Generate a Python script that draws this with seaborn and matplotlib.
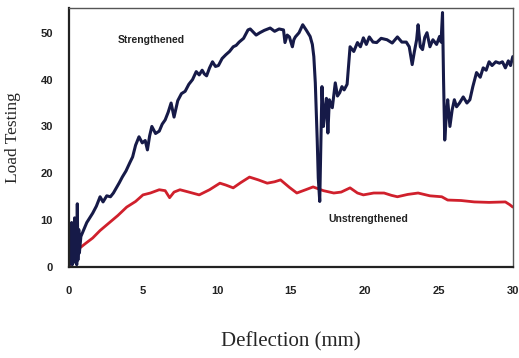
import matplotlib
matplotlib.use("Agg")
import matplotlib.pyplot as plt
import seaborn as sns
import pandas as pd

# values (deflection in mm, load)
strengthened_x = [0.0, 0.08, 0.12, 0.18, 0.22, 0.28, 0.32, 0.38, 0.42, 0.48, 0.52, 0.56, 0.6, 0.66,
                  0.7, 0.8, 1.0, 1.2, 1.4, 1.6, 1.85, 2.1, 2.3, 2.55, 2.8, 3.0, 3.2, 3.4, 3.6, 3.85,
                  4.1, 4.3, 4.5, 4.73, 4.95, 5.15, 5.3, 5.45, 5.6, 5.85, 6.1, 6.3, 6.5, 6.7, 6.9,
                  7.1, 7.35, 7.6, 7.85, 8.1, 8.35, 8.6, 8.8, 9.0, 9.15, 9.3, 9.5, 9.7, 9.9, 10.1,
                  10.35, 10.6, 10.85, 11.1, 11.3, 11.5, 11.8, 12.1, 12.25, 12.4, 12.65, 12.9, 13.2,
                  13.6, 13.9, 14.2, 14.5, 14.6, 14.75, 14.9, 15.0, 15.1, 15.2, 15.3, 15.55, 15.8,
                  16.05, 16.3, 16.45, 16.55, 16.65, 16.72, 16.78, 16.85, 16.95, 17.1, 17.2, 17.3,
                  17.4, 17.5, 17.6, 17.8, 18.0, 18.15, 18.3, 18.45, 18.6, 18.8, 19.0, 19.25, 19.5,
                  19.7, 19.9, 20.1, 20.3, 20.55, 20.8, 21.1, 21.5, 21.85, 22.2, 22.5, 22.8, 23.0,
                  23.2, 23.35, 23.5, 23.6, 23.75, 23.9, 24.05, 24.2, 24.4, 24.6, 24.85, 25.05, 25.15,
                  25.25, 25.32, 25.4, 25.5, 25.6, 25.75, 25.9, 26.05, 26.2, 26.4, 26.65, 26.9, 27.1,
                  27.3, 27.55, 27.8, 28.0, 28.2, 28.4, 28.6, 28.85, 29.1, 29.3, 29.5, 29.7, 29.85,
                  30.0]
strengthened_y = [0.0, 8.5, 1.0, 9.5, 0.5, 7.0, 2.0, 10.5, 1.0, 8.0, 0.5, 13.5, 1.5, 8.0,
                  3.0, 6.5, 8.0, 9.5, 10.5, 11.5, 13.0, 15.0, 13.9, 15.2, 15.0, 15.8, 16.9, 18.0,
                  19.2, 20.5, 22.2, 23.5, 26.0, 27.8, 26.5, 27.0, 25.0, 28.0, 30.0, 28.5, 29.0,
                  30.5, 31.4, 33.0, 35.0, 32.0, 35.5, 37.0, 37.5, 39.0, 40.0, 41.7, 41.0, 42.0,
                  41.2, 40.8, 42.5, 43.8, 42.8, 43.0, 44.5, 45.3, 46.0, 47.0, 47.3, 48.0, 48.8,
                  50.6, 50.8, 50.3, 49.5, 50.0, 50.5, 51.0, 50.3, 50.8, 50.6, 47.9, 49.5, 49.1,
                  48.0, 47.0, 48.5, 49.1, 50.0, 51.7, 50.5, 49.2, 47.5, 44.9, 39.3, 33.0, 27.0,
                  19.0, 14.0, 38.5, 30.0, 33.5, 36.0, 28.6, 35.7, 34.0, 39.3, 36.5, 37.2, 38.5,
                  37.8, 39.0, 47.0, 46.0, 47.9, 47.0, 48.9, 47.5, 49.1, 48.0, 47.9, 48.8, 48.5,
                  47.8, 49.1, 48.0, 48.0, 47.0, 43.2, 46.0, 48.5, 51.7, 47.0, 46.4, 49.0, 50.0,
                  47.0, 48.5, 47.5, 49.2, 48.0, 54.3, 40.0, 27.1, 32.0, 35.7, 30.0, 33.5, 35.7,
                  34.2, 35.0, 36.3, 35.0, 35.7, 38.5, 41.5, 40.5, 42.5, 42.0, 43.8, 43.0, 43.8,
                  43.5, 43.8, 42.5, 44.0, 43.0, 44.9]

unstrengthened_x = [0.0, 0.3, 0.7, 1.1, 1.6, 2.1, 2.7, 3.3, 3.9, 4.5, 5.0, 5.5, 6.1, 6.5,
                    6.8, 7.1, 7.5, 8.1, 8.8, 9.5, 10.2, 10.6, 11.1, 11.6, 12.2, 12.8, 13.4,
                    13.9, 14.3, 14.9, 15.4, 16.0, 16.5, 17.2, 17.9, 18.4, 19.0, 19.5, 19.9,
                    20.6, 21.3, 21.8, 22.2, 22.9, 23.6, 24.4, 25.2, 25.6, 26.5, 27.4, 28.4,
                    29.5, 29.8, 30.0]
unstrengthened_y = [0.3, 1.5, 4.0, 5.0, 6.2, 7.8, 9.4, 11.0, 12.8, 14.0, 15.4, 15.8, 16.5, 16.3,
                    14.8, 16.0, 16.5, 16.0, 15.4, 16.5, 17.9, 17.5, 16.9, 18.0, 19.2, 18.6, 17.9,
                    18.2, 18.6, 17.0, 15.8, 16.5, 17.1, 16.3, 15.8, 16.0, 16.9, 15.8, 15.4,
                    15.8, 15.8, 15.3, 15.0, 15.5, 15.8, 15.2, 15.0, 14.3, 14.2, 13.9, 13.8,
                    13.9, 13.3, 12.8]

x_ticks = [0, 5, 10, 15, 20, 25, 30]
y_ticks = [0, 10, 20, 30, 40, 50]

navy = "#161a48"
red = "#d0202c"

strong_df = pd.DataFrame({"Deflection": strengthened_x, "Load": strengthened_y})
weak_df = pd.DataFrame({"Deflection": unstrengthened_x, "Load": unstrengthened_y})

sns.set_style("white")
fig = plt.figure(figsize=(5.19, 3.58), dpi=100)
ax = fig.add_axes([0.133, 0.254, 0.855, 0.724])

sns.lineplot(data=weak_df, x="Deflection", y="Load", ax=ax, color=red,
             linewidth=2.0, sort=False, estimator=None)
sns.lineplot(data=strong_df, x="Deflection", y="Load", ax=ax, color=navy,
             linewidth=2.2, sort=False, estimator=None)

ax.set_xlim(0, 30)
ax.set_ylim(0, 55.3)
ax.set_xticks(x_ticks)
ax.set_yticks(y_ticks)
ax.tick_params(direction="inout", length=7, width=1.2, colors="#222222",
               labelsize=8)
ax.tick_params(axis="x", pad=10)
ax.tick_params(axis="y", pad=8)
for lbl in ax.get_xticklabels() + ax.get_yticklabels():
    lbl.set_fontweight("bold")
    lbl.set_family("Liberation Sans")

for side in ["left", "bottom"]:
    ax.spines[side].set_color("#222222")
    ax.spines[side].set_linewidth(1.6)
for side in ["top", "right"]:
    ax.spines[side].set_color("#555555")
    ax.spines[side].set_linewidth(1.0)

ax.set_xlabel("Deflection (mm)", family="Liberation Serif", fontsize=15, labelpad=26)
ax.set_ylabel("Load Testing", family="Liberation Serif", fontsize=12.5, labelpad=14)

ax.text(3.3, 48.5, "Strengthened", family="Liberation Sans", fontweight="bold",
        fontsize=7.5, color="#222222", va="center")
ax.text(17.5, 10.3, "Unstrengthened", family="Liberation Sans", fontweight="bold",
        fontsize=7.5, color="#222222", va="center")

fig.savefig("out.png", dpi=100)
